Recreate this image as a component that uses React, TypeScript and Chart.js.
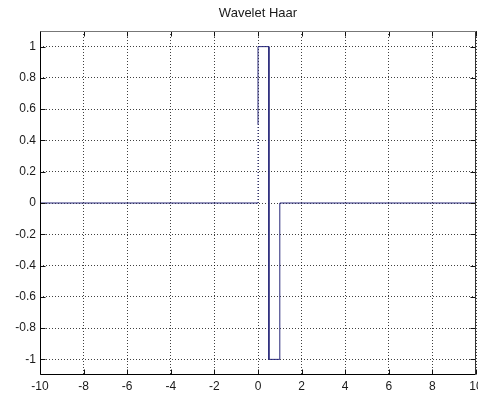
import React, { useEffect, useRef } from "react";
import { Chart, registerables } from "chart.js";

Chart.register(...registerables);

// Haar wavelet psi(t) sampled as a step function
const tValues = [-10, 0, 0, 0, 0.5, 0.5, 1, 1, 10];
const psiValues = [0, 0, 0.5, 1, 1, -1, -1, 0, 0];

const xTicks = [-10, -8, -6, -4, -2, 0, 2, 4, 6, 8, 10];
const yTicks = [-1, -0.8, -0.6, -0.4, -0.2, 0, 0.2, 0.4, 0.6, 0.8, 1];

const titleText = "Wavelet Haar";
const FONT = "'Liberation Sans', Arial, sans-serif";

// Box frame with inward tick marks on all four sides
const boxTicks = {
  id: "boxTicks",
  afterDatasetsDraw(chart: any) {
    const { ctx, chartArea: a, scales } = chart;
    const len = 5;
    const L = Math.round(a.left) + 0.5;
    const R = Math.round(a.right) - 0.5;
    const T = Math.round(a.top) + 0.5;
    const B = Math.round(a.bottom) - 0.5;
    ctx.save();
    ctx.setLineDash([]);
    ctx.lineWidth = 1;
    ctx.strokeStyle = "#111";
    ctx.beginPath();
    for (const v of xTicks) {
      const px = Math.round(scales.x.getPixelForValue(v)) + 0.5;
      ctx.moveTo(px, B);
      ctx.lineTo(px, B - len);
      ctx.moveTo(px, T);
      ctx.lineTo(px, T + len);
    }
    for (const v of yTicks) {
      const py = Math.round(scales.y.getPixelForValue(v)) + 0.5;
      ctx.moveTo(L, py);
      ctx.lineTo(L + len, py);
      ctx.moveTo(R, py);
      ctx.lineTo(R - len, py);
    }
    ctx.stroke();
    // left and bottom axes
    ctx.strokeStyle = "#000";
    ctx.beginPath();
    ctx.moveTo(L, T);
    ctx.lineTo(L, B);
    ctx.lineTo(R, B);
    ctx.stroke();
    // top and right edges of the box
    ctx.strokeStyle = "#777";
    ctx.beginPath();
    ctx.moveTo(L, T);
    ctx.lineTo(R, T);
    ctx.stroke();
    ctx.strokeStyle = "#333";
    ctx.beginPath();
    ctx.moveTo(R, T);
    ctx.lineTo(R, B);
    ctx.stroke();
    ctx.restore();
  },
};

export default function App() {
  const canvasRef = useRef<HTMLCanvasElement | null>(null);

  useEffect(() => {
    const canvas = canvasRef.current;
    if (!canvas) return;
    const points = tValues.map((t, i) => ({ x: t, y: psiValues[i] }));
    const chart = new Chart(canvas, {
      type: "line",
      data: {
        datasets: [
          {
            data: points,
            borderColor: "#262678",
            borderWidth: 1,
            pointRadius: 0,
            tension: 0,
            fill: false,
            segment: {
              borderDash: (ctx: any) => (ctx.p0DataIndex === 1 ? [1, 2] : undefined),
            },
          },
        ],
      },
      options: {
        responsive: false,
        animation: false,
        events: [],
        layout: { padding: { left: 0, right: 2, top: 0, bottom: 0 } },
        plugins: {
          legend: { display: false },
          tooltip: { enabled: false },
          title: {
            display: true,
            fullSize: false,
            text: titleText,
            color: "#1a1a1a",
            font: { family: FONT, size: 13, weight: "normal", lineHeight: 1.2 },
            padding: { top: 6, bottom: 9.4 },
          },
        },
        scales: {
          x: {
            type: "linear",
            min: -10,
            max: 10,
            afterBuildTicks: (scale: any) => {
              scale.ticks = xTicks.map((v) => ({ value: v }));
            },
            afterFit: (scale: any) => {
              scale.height = 19;
              scale.paddingLeft = 0;
              scale.paddingRight = 0;
            },
            ticks: {
              color: "#1a1a1a",
              font: { family: FONT, size: 12 },
              padding: 4,
              maxRotation: 0,
              autoSkip: false,
            },
            grid: {
              color: "rgba(0,0,0,0.75)",
              lineWidth: 1,
              drawTicks: false,
            },
            border: { display: false, dash: [1, 2] },
          },
          y: {
            type: "linear",
            min: -1.1,
            max: 1.1,
            afterBuildTicks: (scale: any) => {
              scale.ticks = yTicks.map((v) => ({ value: v }));
            },
            afterFit: (scale: any) => {
              scale.width = 40;
              scale.paddingTop = 0;
              scale.paddingBottom = 0;
            },
            ticks: {
              color: "#1a1a1a",
              font: { family: FONT, size: 12 },
              padding: 4,
              autoSkip: false,
              callback: (v: any) => String(Math.round(Number(v) * 10) / 10),
            },
            grid: {
              color: "rgba(0,0,0,0.75)",
              lineWidth: 1,
              drawTicks: false,
            },
            border: { display: false, dash: [1, 2] },
          },
        },
      },
      plugins: [boxTicks],
    } as any);
    return () => chart.destroy();
  }, []);

  return (
    <div style={{ position: "fixed", left: 0, top: 0, width: 478, height: 394, background: "#fff" }}>
      <canvas ref={canvasRef} width={478} height={394} style={{ display: "block" }} />
    </div>
  );
}
